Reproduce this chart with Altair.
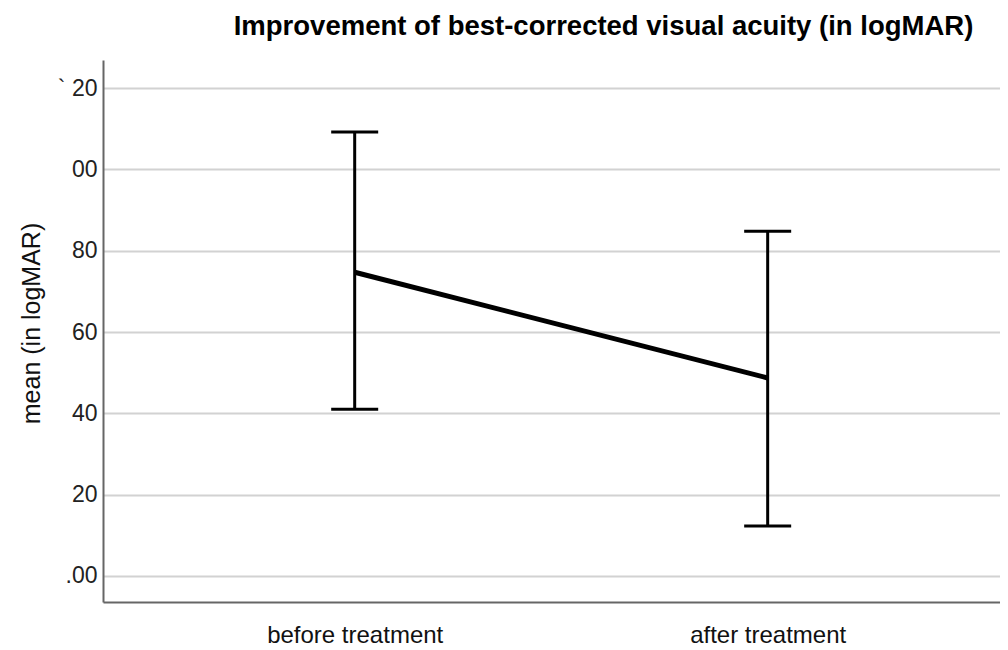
import altair as alt
import pandas as pd
import json

# Data
categories = ["before treatment", "after treatment"]
means = [0.747, 0.487]
upper = [1.092, 0.848]
lower = [0.410, 0.123]

tick_values = [0.0, 0.2, 0.4, 0.6, 0.8, 1.0, 1.2]
tick_labels = [".00", "20", "40", "60", "80", "00", "` 20"]

title_text = "Improvement of best-corrected visual acuity (in logMAR)"
y_title = "mean (in logMAR)"

df = pd.DataFrame({"group": categories, "mean": means, "hi": upper, "lo": lower})

FONT = "Liberation Sans"
W, H = 897, 542

label_expr = json.dumps(tick_labels) + "[round(datum.value*5)]"

x_enc = alt.X(
    "group:N",
    sort=categories,
    scale=alt.Scale(type="point", domain=categories, padding=0.586, align=0.52),
    axis=alt.Axis(
        title=None, labelAngle=0, ticks=False, grid=False,
        labelFont=FONT, labelFontSize=24, labelColor="#111",
        labelPadding=21, labelBaseline="top",
        domainColor="#666", domainWidth=2,
    ),
)

y_scale = alt.Scale(domain=[-0.064, 1.269], nice=False, zero=False)

y_axis = alt.Axis(
    values=tick_values, labelExpr=label_expr, ticks=False,
    grid=True, gridColor="#d2d2d2", gridWidth=2,
    domainColor="#666", domainWidth=2,
    labelFont=FONT, labelFontSize=23, labelColor="#222", labelPadding=6,
    title=y_title, titleFont=FONT, titleFontSize=25, titleFontWeight="normal",
    titleColor="#111", titleAngle=270, titleX=-72, titleY=263,
    titleAlign="center", titleBaseline="middle",
)

base = alt.Chart(df)

bars = base.mark_rule(color="black", strokeWidth=3).encode(
    x=x_enc,
    y=alt.Y("lo:Q", scale=y_scale, axis=y_axis),
    y2="hi:Q",
)

caps_hi = base.mark_tick(color="black", opacity=1, thickness=3, size=47).encode(
    x=x_enc, y=alt.Y("hi:Q", scale=y_scale)
)
caps_lo = base.mark_tick(color="black", opacity=1, thickness=3, size=47).encode(
    x=x_enc, y=alt.Y("lo:Q", scale=y_scale)
)

line = base.mark_line(color="black", strokeWidth=5).encode(
    x=x_enc, y=alt.Y("mean:Q", scale=y_scale)
)

chart = (
    alt.layer(bars, caps_hi, caps_lo, line)
    .properties(
        width=W, height=H,
        view=alt.ViewBackground(strokeOpacity=0, strokeWidth=0),
        title=alt.TitleParams(
            title_text, font=FONT, fontSize=27.5, fontWeight="bold",
            color="#000", anchor="middle", dx=52, dy=18, offset=16,
            baseline="alphabetic",
        ),
        autosize=alt.AutoSizeParams(type="none"),
        padding={"left": 95, "top": 52, "right": 0, "bottom": 45},
    )
    .configure_view(strokeWidth=0, strokeOpacity=0)
    .configure(background="white")
)

chart.save("out.html", embed_options={"renderer": "svg", "actions": False})
